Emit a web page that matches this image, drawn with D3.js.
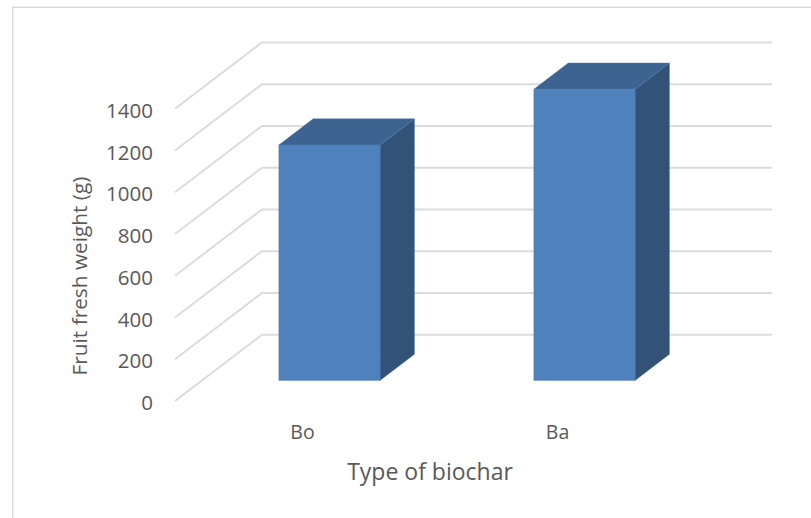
<!DOCTYPE html>
<html>
<head>
<meta charset="utf-8">
<script src="https://d3js.org/d3.v7.min.js"></script>
<style>
  html, body { margin: 0; padding: 0; background: #fff; }
  svg { display: block; }
  text { font-family: "Open Sans", sans-serif; fill: #595959; }
</style>
</head>
<body>
<div id="chart"></div>
<script>
const categories = ['Bo', 'Ba'];
const weights = [1128, 1395];
const yTicks = [0, 200, 400, 600, 800, 1000, 1200, 1400];
const xTitle = 'Type of biochar';
const yTitle = 'Fruit fresh weight (g)';

const width = 811;
const height = 518;

// front plane of the 3d box, the back wall is shifted by depthX/depthY
const depthX = 87;
const depthY = 66.3;
const barDepth = 0.395;  // how deep the bar is, as part of the floor
const barOffset = 0.31;  // where the bar starts on the floor

const svg = d3.select('#chart')
  .append('svg')
  .attr('width', width)
  .attr('height', height);

// chart frame, runs off the right and bottom of the picture
svg.append('rect')
  .attr('x', 12.7)
  .attr('y', 7.3)
  .attr('width', width)
  .attr('height', height)
  .attr('fill', '#fff')
  .attr('stroke', '#d9d9d9')
  .attr('stroke-width', 1.4);

const x = d3.scaleBand()
  .domain(categories)
  .range([175, 685]);

const y = d3.scaleLinear()
  .domain([0, 1400])
  .range([401, 108.7]);

// gridlines: side wall then back wall
const grid = svg.append('g')
  .attr('fill', 'none')
  .attr('stroke', '#dcdcdc')
  .attr('stroke-width', 2);

grid.selectAll('path')
  .data(yTicks)
  .enter().append('path')
  .attr('d', d => `M${x.range()[0]},${y(d)}L${x.range()[0] + depthX},${y(d) - depthY}L${x.range()[1] + depthX},${y(d) - depthY}`);

// bars
const barWidth = x.bandwidth() * 0.397;
const bars = svg.selectAll('.bar')
  .data(categories.map((c, i) => ({ name: c, value: weights[i] })))
  .enter().append('g')
  .attr('class', 'bar')
  .attr('stroke', '#4a76aa')
  .attr('stroke-width', 0.4)
  .attr('stroke-linejoin', 'round');

const barLeft = d => x(d.name) + x.bandwidth() / 2 - barWidth / 2 + depthX * barOffset;
const barBottom = y(0) - depthY * barOffset;
const barTop = d => y(d.value) - depthY * barOffset;
const dx = depthX * barDepth;
const dy = depthY * barDepth;

// side
bars.append('path')
  .attr('fill', '#325277')
  .attr('d', d => `M${barLeft(d) + barWidth},${barTop(d)}l${dx},${-dy}V${barBottom - dy}L${barLeft(d) + barWidth},${barBottom}Z`);
// top
bars.append('path')
  .attr('fill', '#3d6491')
  .attr('d', d => `M${barLeft(d)},${barTop(d)}l${dx},${-dy}h${barWidth}l${-dx},${dy}Z`);
// front
bars.append('rect')
  .attr('fill', '#4f81bd')
  .attr('x', barLeft)
  .attr('y', barTop)
  .attr('width', barWidth)
  .attr('height', d => barBottom - barTop(d));

// y axis labels
const yAxis = svg.append('g')
  .attr('transform', 'translate(153,0)')
  .call(d3.axisLeft(y).tickValues(yTicks).tickSize(0).tickPadding(0).tickFormat(d3.format('d')));
yAxis.select('.domain').remove();
yAxis.selectAll('text')
  .style('font-size', '20.5px')
  .style('font-family', '"Open Sans", sans-serif')
  .attr('fill', '#595959')
  .attr('dy', '0.42em');

// x axis labels
const xAxis = svg.append('g')
  .attr('transform', 'translate(0,425)')
  .call(d3.axisBottom(x).tickSize(0).tickPadding(0));
xAxis.select('.domain').remove();
xAxis.selectAll('text')
  .style('font-size', '19.5px')
  .style('font-family', '"Open Sans", sans-serif')
  .attr('fill', '#595959');

// axis titles
svg.append('text')
  .attr('x', 430)
  .attr('y', 480)
  .attr('text-anchor', 'middle')
  .style('font-size', '23px')
  .text(xTitle);

svg.append('text')
  .attr('transform', 'translate(87,276) rotate(-90)')
  .attr('text-anchor', 'middle')
  .style('font-size', '20.8px')
  .text(yTitle);
</script>
</body>
</html>
